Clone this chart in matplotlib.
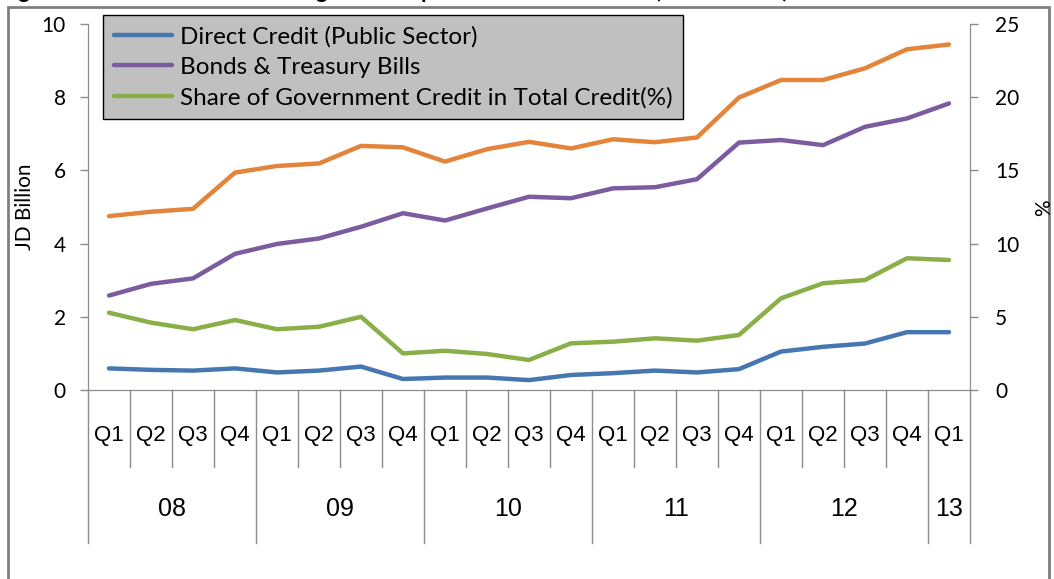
import matplotlib
matplotlib.use("Agg")
import matplotlib.pyplot as plt
from matplotlib.patches import Rectangle

# quarterly data, Q1 2008 .. Q1 2013
quarters = ["Q1", "Q2", "Q3", "Q4"] * 5 + ["Q1"]
years = ["08", "09", "10", "11", "12", "13"]
year_len = [4, 4, 4, 4, 4, 1]

total_credit = [4.75, 4.87, 4.95, 5.94, 6.12, 6.19, 6.67, 6.63, 6.24, 6.58, 6.78,
                6.60, 6.85, 6.77, 6.90, 7.99, 8.47, 8.47, 8.79, 9.31, 9.44]
direct_credit = [0.59, 0.55, 0.53, 0.59, 0.48, 0.53, 0.64, 0.30, 0.34, 0.34, 0.27,
                 0.41, 0.46, 0.53, 0.48, 0.57, 1.05, 1.18, 1.27, 1.58, 1.58]
bonds_tbills = [2.58, 2.90, 3.05, 3.72, 3.99, 4.14, 4.46, 4.83, 4.63, 4.96, 5.28,
                5.24, 5.51, 5.54, 5.76, 6.76, 6.83, 6.69, 7.19, 7.42, 7.83]
gov_share = [5.28, 4.60, 4.15, 4.78, 4.15, 4.32, 5.00, 2.50, 2.68, 2.46, 2.05,
             3.19, 3.30, 3.53, 3.37, 3.76, 6.26, 7.29, 7.51, 9.00, 8.88]

txt_font = ["Lato", "DejaVu Sans"]
cat_font = ["Liberation Sans", "DejaVu Sans"]
grey = "#8c8c8c"

fig = plt.figure(figsize=(10.54, 5.79), dpi=100)
W, H = 1054, 579

# outer chart frame
fig.patches.append(Rectangle((8 / W, -0.05), (1049 - 8) / W, 1.05 - 7 / H,
                             transform=fig.transFigure, fill=False,
                             edgecolor="#7f7f7f", linewidth=2))
# title sits above the top edge, only its descenders show
fig.text(0.0, 1 + 2 / H, "Figure 6: Government Borrowing and Components of Public Debt (2008 - 2013)",
         fontsize=16, fontweight="bold", family=txt_font, va="baseline", ha="left")

ax = fig.add_axes([88 / W, 1 - 390 / H, (970 - 88) / W, (390 - 24) / H])
ax2 = ax.twinx()

x = list(range(len(quarters)))
lw = 3.2
ax.plot(x, total_credit, color="#E3843A", lw=lw, solid_capstyle="round")
l_bt, = ax.plot(x, bonds_tbills, color="#7B5C9E", lw=lw, solid_capstyle="round",
                label="Bonds & Treasury Bills")
l_dc, = ax.plot(x, direct_credit, color="#4677B1", lw=lw, solid_capstyle="round",
                label="Direct Credit (Public Sector)")
l_sh, = ax2.plot(x, gov_share, color="#8AAF48", lw=lw, solid_capstyle="round",
                 label="Share of Government Credit in Total Credit(%)")
ax.set_zorder(ax2.get_zorder() + 1)
ax.patch.set_visible(False)

ax.set_xlim(-0.5, len(x) - 0.5)
ax.set_ylim(0, 10)
ax2.set_ylim(0, 25)
ax.set_yticks([0, 2, 4, 6, 8, 10])
ax2.set_yticks([0, 5, 10, 15, 20, 25])
ax.set_xticks([])

for a, pad in ((ax, 10), (ax2, 12)):
    for s in a.spines.values():
        s.set_color(grey)
    a.spines["top"].set_visible(False)
    a.tick_params(axis="y", direction="out", length=6, width=1, color=grey,
                  labelsize=15, pad=pad)
    for t in a.get_yticklabels():
        t.set_family(txt_font)

ax.set_ylabel("JD Billion", fontsize=15, family=txt_font)
ax.yaxis.set_label_coords(-(88 - 35) / (970 - 88), 0.5)
fig.text(1044 / W, 1 - 208 / H, "%", fontsize=15, family=txt_font, rotation=90,
         ha="center", va="center")

# two-level category axis
trans = ax.get_xaxis_transform()
axh = 390 - 24
q_bot = -(467 - 390) / axh
y_bot = -(543 - 390) / axh
for i, q in enumerate(quarters):
    ax.text(i, -(435 - 390) / axh, q, transform=trans, ha="center", va="center",
            fontsize=16, family=cat_font)
bounds = [0]
for n in year_len:
    bounds.append(bounds[-1] + n)
for k in range(len(quarters) + 1):
    yb = y_bot if k in bounds else q_bot
    ax.plot([k - 0.5, k - 0.5], [0, yb], transform=trans, color=grey, lw=1,
            clip_on=False)
for j, yr in enumerate(years):
    xc = (bounds[j] + bounds[j + 1]) / 2 - 0.5
    ax.text(xc, -(509 - 390) / axh, yr, transform=trans, ha="center", va="center",
            fontsize=18, family=cat_font)

leg = fig.legend(handles=[l_dc, l_bt, l_sh], loc="upper left",
                 bbox_to_anchor=(103 / W, 1 - 15 / H), bbox_transform=fig.transFigure,
                 prop={"family": txt_font, "size": 17.5}, frameon=True, fancybox=False,
                 handlelength=2.4, handletextpad=0.3, borderpad=0.45,
                 labelspacing=0.38, borderaxespad=0)
leg.get_frame().set_facecolor("#c0c0c0")
leg.get_frame().set_edgecolor("black")
leg.get_frame().set_alpha(1)
leg.get_frame().set_linewidth(1)

fig.savefig("out.png", dpi=100)
